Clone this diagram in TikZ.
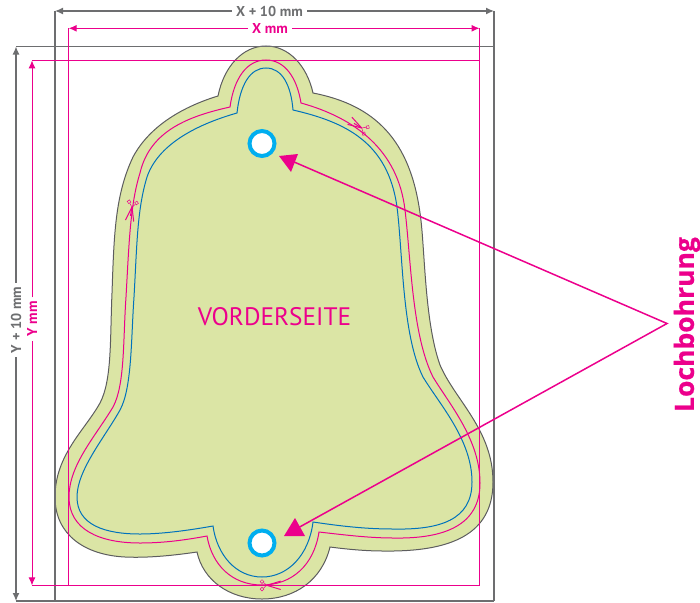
\documentclass[tikz,border=0pt]{standalone}
\usepackage{fontspec}
\setmainfont{PT Sans}
\newfontfamily\boldsans[BoldFeatures={FakeBold=0.6}]{Open Sans}
\usetikzlibrary{arrows.meta,positioning}
\definecolor{pinkcut}{HTML}{EC008C}
\definecolor{grayframe}{HTML}{6D6E70}
\definecolor{bluesafe}{HTML}{0072BC}
\definecolor{cyanhole}{HTML}{00AEEF}
\definecolor{bellgreen}{HTML}{DBE5A5}
\tikzset{>={Latex[length=8pt,width=7pt]}}
\tikzset{
  graydim/.style={draw=grayframe,line width=1.2pt},
  pinkdim/.style={draw=pinkcut,line width=1pt},
  graylabel/.style={text=grayframe,font=\fontsize{14.3}{16}\selectfont\bfseries,inner sep=4pt},
  pinklabel/.style={text=pinkcut,font=\fontsize{14.3}{16}\selectfont\bfseries,inner sep=4pt},
  hole/.style={circle,draw=cyanhole,fill=white,line width=4pt,minimum size=25pt,inner sep=0pt},
  scissors/.pic={
    \draw[pinkcut,line width=.5pt] (-4.7,-3.8) circle (1.9) (-4.7,3.8) circle (1.9);
    \draw[pinkcut,line width=.5pt] (-3.2,-2.8) -- (0,0) (-3.2,2.8) -- (0,0);
    \draw[pinkcut,line width=1pt] (0,0) -- (14,-4.2) (0,0) -- (14,4.2);
    \draw[pinkcut,line width=1pt] (0,0) -- (9,0);
  }
}

\begin{document}
\begin{tikzpicture}[x=1pt,y=-1pt]
    \useasboundingbox (0,0) rectangle (700,602);
    % bell
    \draw[fill=bellgreen,draw=grayframe!85!black,line width=1pt]
      (218,96) .. controls (224,66) and (243,46) .. (266,46) .. controls (289,46) and (307,66) .. (313,93)
      .. controls (375,105) and (410,140) .. (420,213) .. controls (425,245) and (424,320) .. (440,365)
      .. controls (455,400) and (493,430) .. (493,482) .. controls (493,535) and (450,552) .. (383,551)
      .. controls (365,551) and (345,549) .. (330,547)
      .. controls (322,580) and (295,599) .. (262,599) .. controls (229,599) and (203,580) .. (197,552)
      .. controls (170,556) and (145,558) .. (125,557) .. controls (85,555) and (55,535) .. (55,497)
      .. controls (55,455) and (85,430) .. (100,403) .. controls (112,380) and (110,340) .. (112,293)
      .. controls (114,235) and (115,195) .. (133,157) .. controls (150,125) and (185,106) .. (218,96) -- cycle;
    \draw[draw=pinkcut,line width=1pt]
      (230,107) .. controls (234,78) and (247,60) .. (266,60) .. controls (285,60) and (297,78) .. (301,103)
      .. controls (355,118) and (398,150) .. (405,210) .. controls (411,260) and (412,335) .. (433,377)
      .. controls (450,405) and (480,440) .. (480,483) .. controls (480,525) and (445,539) .. (393,538)
      .. controls (370,538) and (345,535) .. (319,532)
      .. controls (314,565) and (292,585) .. (262,585) .. controls (232,585) and (212,565) .. (207,536)
      .. controls (180,541) and (160,543) .. (140,543) .. controls (100,543) and (69,530) .. (69,497)
      .. controls (69,465) and (95,437) .. (113,407) .. controls (125,385) and (123,340) .. (126,297)
      .. controls (129,245) and (130,205) .. (140,173) .. controls (150,130) and (190,116) .. (230,107) -- cycle;
    \draw[draw=bluesafe,line width=1pt]
      (237,113) .. controls (240,85) and (250,68) .. (266,68) .. controls (282,68) and (291,85) .. (293,110)
      .. controls (345,122) and (388,142) .. (397,207) .. controls (403,255) and (402,335) .. (423,377)
      .. controls (440,405) and (472,440) .. (472,482) .. controls (472,520) and (440,530) .. (393,529)
      .. controls (365,529) and (340,526) .. (313,522)
      .. controls (309,555) and (288,577) .. (262,577) .. controls (236,577) and (217,555) .. (213,526)
      .. controls (185,531) and (160,534) .. (140,534) .. controls (105,534) and (77,525) .. (77,497)
      .. controls (77,470) and (105,437) .. (120,410) .. controls (132,388) and (131,340) .. (134,297)
      .. controls (137,245) and (137,210) .. (147,177) .. controls (158,145) and (195,125) .. (237,113) -- cycle;
    % outer frame
    \draw[graydim] (55,11) -- (55,601) (494,11) -- (494,601);
    \draw[graydim] (16,46.5) -- (494,46.5) (16,601) -- (494,601);
    % inner frame
    \draw[pinkdim] (68.7,28.3) -- (68.7,585.4) (479.5,28.3) -- (479.5,585.4);
    \draw[pinkdim] (32,60.4) -- (479.5,60.4) (32,585.4) -- (479.5,585.4);
    % dimensions
    \node[graylabel] (xten) at (269.5,11) {X + 10 mm};
    \coordinate (xtenL) at (55,11);
    \coordinate (xtenR) at (494,11);
    \draw[graydim,->] (xten) -- (xtenL);
    \draw[graydim,->] (xten) -- (xtenR);
    \node[pinklabel] (xmm) at (270,28.3) {X mm};
    \coordinate (xmmL) at (68.7,28.3);
    \coordinate (xmmR) at (479.5,28.3);
    \draw[pinkdim,->] (xmm) -- (xmmL);
    \draw[pinkdim,->] (xmm) -- (xmmR);
    \node[graylabel,rotate=90] (yten) at (16,320) {Y + 10 mm};
    \coordinate (ytenT) at (16,46.5);
    \coordinate (ytenB) at (16,601);
    \draw[graydim,->] (yten) -- (ytenT);
    \draw[graydim,->] (yten) -- (ytenB);
    \node[pinklabel,rotate=90] (ymm) at (32,319) {Y mm};
    \coordinate (ymmT) at (32,60.4);
    \coordinate (ymmB) at (32,585.4);
    \draw[pinkdim,->] (ymm) -- (ymmT);
    \draw[pinkdim,->] (ymm) -- (ymmB);
    % holes
    \node[hole] (holetop) at (262,143.5) {};
    \node[hole] (holebot) at (262,543) {};
    % pointers
    \node[text=pinkcut,font=\fontsize{25.3}{28}\selectfont] (front) at (274.5,316.5) {VORDERSEITE};
    \node[text=pinkcut,font=\boldsans\fontsize{26.5}{28}\selectfont\bfseries,rotate=90] (lochlabel) at (687,324.5) {Lochbohrung};
    \coordinate (apex) at (667,323.5);
    \coordinate (tiptop) at (293,161.5);
    \coordinate (tipbot) at (296,529);
    \draw[pinkdim,line width=1.5pt] (tiptop) -- (apex) -- (tipbot);
    \fill[pinkcut] (279,156) -- (298,154) -- (291,172) -- cycle;
    \fill[pinkcut] (295,518) -- (305,536) -- (284,536) -- cycle;
    % scissors
    \pic[rotate=-100] at (132,207) {scissors};
    \pic[rotate=149] at (361.7,128) {scissors};
    \pic at (266.7,585.3) {scissors};
\end{tikzpicture}
\end{document}
